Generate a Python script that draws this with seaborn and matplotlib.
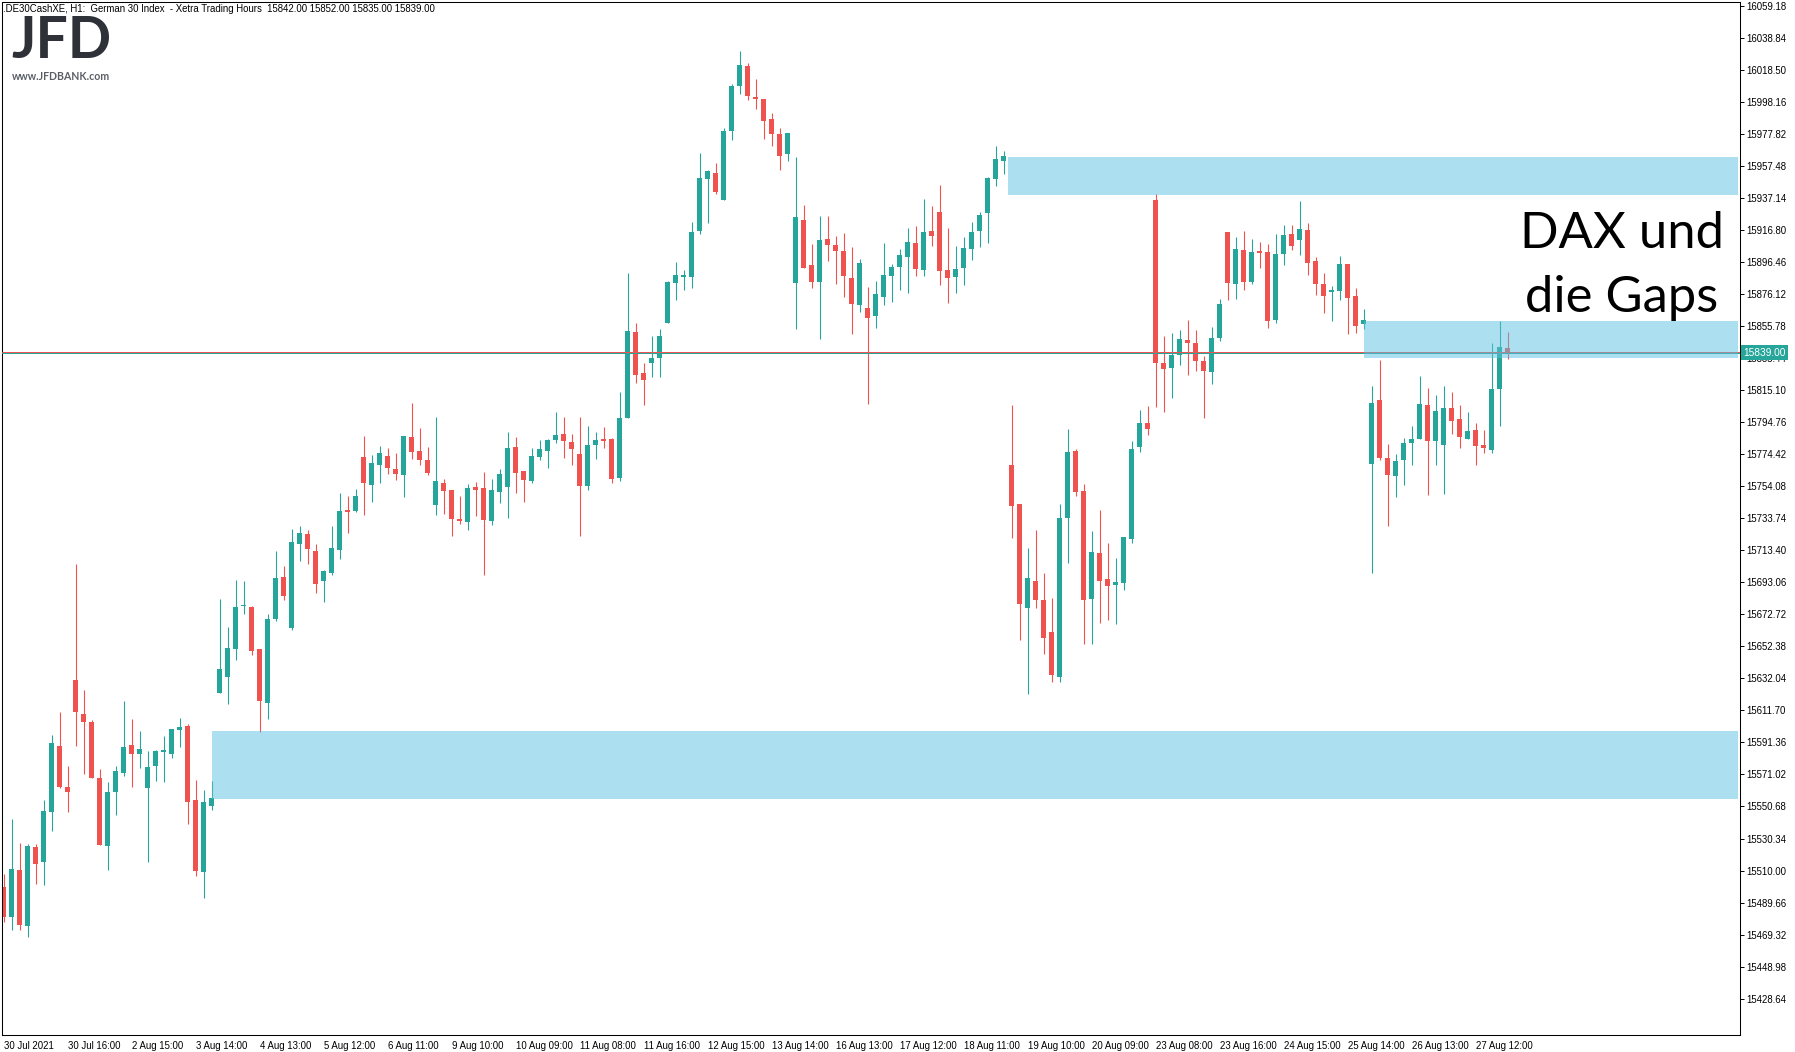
import numpy as np
import pandas as pd
import matplotlib
matplotlib.use("Agg")
import matplotlib.pyplot as plt
import matplotlib.transforms as mtransforms
from matplotlib.patches import Rectangle
import seaborn as sns

# DE30 hourly candles, 30 Jul - 27 Aug 2021
OPEN = [15499.7, 15480.7, 15510.5, 15474.5, 15525.1, 15515.1, 15546.9, 15589.2, 15563.2, 15631.1,
        15609.5, 15604.4, 15568.9, 15525.3, 15560.0, 15572.1, 15589.8, 15584.1, 15562.5, 15576.5,
        15585.4, 15584.1, 15599.4, 15601.9, 15554.9, 15509.2, 15551.1, 15622.8, 15633.0, 15650.8,
        15678.1, 15677.4, 15650.8, 15616.5, 15669.8, 15696.5, 15664.3, 15717.7, 15723.8, 15713.0,
        15694.2, 15699.3, 15713.9, 15739.0, 15738.4, 15772.7, 15755.1, 15767.8, 15773.3, 15765.1,
        15761.5, 15785.4, 15776.5, 15770.8, 15742.4, 15756.2, 15751.7, 15732.7, 15731.6, 15753.6,
        15753.0, 15732.3, 15750.7, 15753.9, 15779.0, 15763.8, 15757.7, 15772.9, 15776.7, 15783.7,
        15787.3, 15782.2, 15774.6, 15754.5, 15780.3, 15784.1, 15784.1, 15759.3, 15797.4, 15852.0,
        15826.0, 15832.3, 15835.5, 15857.7, 15883.1, 15886.9, 15886.9, 15916.1, 15949.1, 15952.9,
        15935.8, 15979.6, 16008.2, 16020.9, 16001.2, 15999.9, 15987.2, 15977.7, 15965.0, 15883.1,
        15923.1, 15894.5, 15883.7, 15911.0, 15907.2, 15903.4, 15886.3, 15869.1, 15867.2, 15862.2,
        15874.2, 15887.6, 15893.3, 15899.7, 15909.0, 15891.6, 15916.6, 15928.1, 15891.4, 15886.8,
        15892.8, 15904.8, 15916.3, 15927.6, 15949.3, 15960.7, 15767.5, 15742.8, 15677.0, 15693.8,
        15681.8, 15661.5, 15633.1, 15734.0, 15776.5, 15751.1, 15682.8, 15711.6, 15695.2, 15691.5,
        15692.5, 15720.9, 15779.2, 15794.2, 15935.7, 15832.3, 15829.3, 15837.6, 15846.9, 15845.0,
        15833.5, 15826.8, 15848.2, 15915.5, 15882.5, 15904.1, 15883.8, 15903.0, 15902.8, 15859.6,
        15901.5, 15914.2, 15910.4, 15916.8, 15897.1, 15882.5, 15877.6, 15878.1, 15895.2, 15874.9,
        15857.1, 15768.2, 15808.9, 15772.0, 15760.6, 15770.8, 15781.6, 15784.1, 15805.7, 15782.8,
        15780.3, 15803.8, 15796.8, 15784.1, 15789.8, 15780.3, 15777.1, 15815.8, 15842.0]
HIGH = [15507.9, 15542.9, 15527.6, 15526.6, 15527.0, 15554.9, 15596.2, 15610.8, 15576.5, 15704.7,
        15624.7, 15605.7, 15574.6, 15566.3, 15576.5, 15617.8, 15606.3, 15598.7, 15586.0, 15586.7,
        15595.5, 15600.0, 15607.0, 15603.2, 15567.6, 15561.3, 15567.0, 15682.5, 15664.7, 15694.6,
        15693.9, 15678.1, 15650.8, 15673.0, 15713.0, 15703.5, 15727.0, 15728.9, 15726.3, 15717.5,
        15701.0, 15728.9, 15749.8, 15747.9, 15752.4, 15786.0, 15774.0, 15779.7, 15778.4, 15775.2,
        15786.0, 15807.0, 15791.1, 15779.0, 15798.1, 15758.7, 15751.7, 15747.9, 15755.5, 15756.8,
        15763.2, 15758.7, 15765.1, 15788.6, 15785.4, 15763.8, 15778.4, 15783.5, 15784.1, 15801.3,
        15798.1, 15787.3, 15798.1, 15792.4, 15788.5, 15791.7, 15784.7, 15813.9, 15889.5, 15857.7,
        15832.3, 15849.5, 15853.9, 15884.4, 15896.4, 15891.4, 15921.8, 15965.6, 15954.8, 15959.3,
        15981.5, 16009.4, 16030.4, 16022.8, 16012.6, 15999.9, 15991.0, 15981.5, 15978.3, 15963.1,
        15932.6, 15907.9, 15925.6, 15925.6, 15912.9, 15914.8, 15906.0, 15898.3, 15880.6, 15884.4,
        15908.5, 15895.2, 15904.7, 15918.4, 15919.8, 15936.4, 15932.5, 15945.6, 15918.0, 15906.6,
        15912.2, 15921.9, 15928.3, 15950.5, 15970.1, 15966.9, 15805.6, 15742.8, 15714.8, 15726.2,
        15698.9, 15683.0, 15742.8, 15790.3, 15777.9, 15755.7, 15725.9, 15739.3, 15718.3, 15708.6,
        15721.8, 15782.9, 15802.8, 15805.1, 15939.9, 15849.4, 15851.3, 15853.3, 15859.6, 15853.3,
        15836.7, 15855.2, 15873.0, 15915.5, 15912.3, 15916.1, 15911.1, 15909.2, 15907.9, 15914.2,
        15919.9, 15919.9, 15935.2, 15921.2, 15899.6, 15889.5, 15881.2, 15900.3, 15895.2, 15880.0,
        15866.6, 15817.7, 15834.2, 15780.9, 15774.6, 15784.7, 15792.4, 15824.1, 15816.5, 15812.0,
        15817.7, 15813.9, 15805.7, 15801.2, 15794.3, 15789.8, 15845.0, 15859.0, 15852.0]
LOW = [15477.3, 15472.0, 15472.0, 15467.5, 15501.6, 15501.0, 15535.2, 15562.5, 15547.3, 15589.2,
       15571.4, 15568.5, 15525.9, 15510.5, 15545.4, 15570.2, 15563.2, 15575.2, 15515.6, 15567.0,
       15566.3, 15581.6, 15588.6, 15539.7, 15506.7, 15492.7, 15548.6, 15622.8, 15615.9, 15643.8,
       15673.0, 15647.0, 15598.1, 15606.3, 15668.5, 15681.9, 15663.1, 15706.7, 15704.8, 15686.6,
       15680.9, 15698.0, 15707.9, 15724.7, 15738.0, 15736.1, 15744.3, 15756.4, 15762.1, 15758.3,
       15747.5, 15771.6, 15767.8, 15761.5, 15736.1, 15736.7, 15722.7, 15730.4, 15726.6, 15735.4,
       15698.0, 15729.7, 15743.7, 15734.2, 15750.0, 15744.3, 15756.4, 15771.0, 15765.9, 15781.8,
       15772.3, 15767.8, 15722.7, 15751.9, 15771.4, 15778.4, 15756.1, 15757.4, 15797.4, 15819.6,
       15805.7, 15823.4, 15823.4, 15857.7, 15872.3, 15878.7, 15879.9, 15914.2, 15921.2, 15939.6,
       15935.8, 15973.9, 16003.1, 15999.3, 15993.6, 15974.5, 15970.1, 15954.8, 15960.6, 15853.9,
       15892.6, 15879.9, 15847.6, 15897.1, 15882.5, 15874.2, 15850.7, 15864.7, 15806.3, 15854.5,
       15869.1, 15871.0, 15878.7, 15876.9, 15887.5, 15887.5, 15906.9, 15881.7, 15870.6, 15876.9,
       15881.7, 15897.6, 15906.0, 15908.7, 15945.0, 15952.6, 15721.1, 15656.7, 15622.1, 15677.0,
       15647.7, 15629.7, 15629.7, 15705.2, 15748.1, 15653.9, 15653.9, 15667.5, 15669.4, 15666.8,
       15688.3, 15718.3, 15776.0, 15786.9, 15804.4, 15801.4, 15810.4, 15831.2, 15824.9, 15827.5,
       15797.7, 15819.2, 15846.5, 15872.3, 15873.0, 15878.7, 15882.5, 15892.7, 15854.6, 15857.7,
       15894.6, 15904.1, 15900.9, 15888.2, 15875.5, 15864.1, 15859.0, 15872.3, 15850.8, 15851.4,
       15853.9, 15699.0, 15770.8, 15728.9, 15747.3, 15754.9, 15767.6, 15784.1, 15748.6, 15767.6,
       15749.2, 15787.3, 15778.4, 15784.1, 15767.6, 15775.2, 15775.2, 15792.4, 15835.0]
CLOSE = [15480.2, 15511.1, 15475.1, 15525.7, 15514.3, 15547.9, 15591.1, 15563.0, 15560.2, 15610.4,
         15604.6, 15568.9, 15525.9, 15560.0, 15573.3, 15588.6, 15584.1, 15587.3, 15575.9, 15586.0,
         15585.4, 15600.0, 15601.3, 15553.6, 15509.8, 15553.6, 15556.2, 15638.1, 15651.4, 15677.4,
         15678.1, 15649.5, 15617.8, 15669.8, 15695.8, 15684.4, 15718.7, 15724.4, 15714.3, 15692.3,
         15700.3, 15714.9, 15738.4, 15738.0, 15747.9, 15756.4, 15768.9, 15775.2, 15765.9, 15762.1,
         15786.0, 15776.1, 15771.0, 15762.7, 15757.5, 15751.3, 15733.5, 15732.3, 15753.0, 15751.9,
         15732.9, 15751.7, 15761.9, 15778.4, 15762.7, 15758.3, 15773.3, 15777.8, 15783.5, 15786.7,
         15783.1, 15778.0, 15754.5, 15780.3, 15783.4, 15783.0, 15758.7, 15797.4, 15852.6, 15824.7,
         15821.5, 15835.5, 15849.5, 15883.7, 15888.2, 15888.2, 15915.5, 15949.8, 15954.2, 15940.9,
         15979.6, 16008.2, 16021.5, 16001.8, 15999.9, 15985.9, 15977.7, 15963.7, 15978.3, 15925.0,
         15892.6, 15883.7, 15910.4, 15907.2, 15903.4, 15887.6, 15869.8, 15895.8, 15860.9, 15876.1,
         15888.2, 15893.3, 15900.9, 15909.4, 15892.1, 15915.9, 15913.1, 15891.0, 15886.6, 15892.3,
         15905.3, 15915.9, 15926.3, 15949.8, 15961.8, 15963.7, 15741.4, 15679.5, 15695.7, 15682.1,
         15657.8, 15634.5, 15733.8, 15775.8, 15750.2, 15682.1, 15712.3, 15694.1, 15690.8, 15693.2,
         15721.8, 15777.6, 15794.2, 15790.6, 15832.6, 15828.6, 15837.4, 15847.6, 15845.3, 15833.7,
         15827.5, 15848.3, 15869.8, 15883.1, 15904.7, 15883.8, 15902.8, 15902.6, 15859.0, 15901.5,
         15913.6, 15906.6, 15917.4, 15895.8, 15882.5, 15874.9, 15878.7, 15895.2, 15873.6, 15855.8,
         15859.6, 15807.0, 15772.0, 15761.2, 15770.1, 15781.6, 15784.1, 15806.3, 15782.8, 15801.9,
         15803.8, 15795.5, 15785.4, 15789.2, 15779.7, 15778.4, 15815.8, 15842.5, 15839.0]

X_LABELS = ["30 Jul 2021", "30 Jul 16:00", "2 Aug 15:00", "3 Aug 14:00", "4 Aug 13:00",
            "5 Aug 12:00", "6 Aug 11:00", "9 Aug 10:00", "10 Aug 09:00", "11 Aug 08:00",
            "11 Aug 16:00", "12 Aug 15:00", "13 Aug 14:00", "16 Aug 13:00", "17 Aug 12:00",
            "18 Aug 11:00", "19 Aug 10:00", "20 Aug 09:00", "23 Aug 08:00", "23 Aug 16:00",
            "24 Aug 15:00", "25 Aug 14:00", "26 Aug 13:00", "27 Aug 12:00"]
BARS_PER_LABEL = 8

Y_TICKS = [16059.18, 16038.84, 16018.50, 15998.16, 15977.82, 15957.48, 15937.14, 15916.80,
           15896.46, 15876.12, 15855.78, 15835.44, 15815.10, 15794.76, 15774.42, 15754.08,
           15733.74, 15713.40, 15693.06, 15672.72, 15652.38, 15632.04, 15611.70, 15591.36,
           15571.02, 15550.68, 15530.34, 15510.00, 15489.66, 15469.32, 15448.98, 15428.64]

# gap zones: start bar, low, high
ZONE_START = [26.1, 125.6, 170.0]
ZONE_LOW = [15555.6, 15939.4, 15835.9]
ZONE_HIGH = [15598.9, 15963.4, 15859.2]

LAST_PRICE = 15839.0
HEADER = ".DE30CashXE, H1:  German 30 Index  - Xetra Trading Hours  15842.00 15852.00 15835.00 15839.00"

GREEN = "#26A69A"
RED = "#EF5350"
ZONE = (0.357, 0.757, 0.882, 0.5)
SMALL = 6.9

W_PX, H_PX = 1795, 1052

sns.set_style("white")
plt.rcParams['font.family'] = ['Liberation Sans', 'DejaVu Sans']

df = pd.DataFrame({"open": OPEN, "high": HIGH, "low": LOW, "close": CLOSE})
df["bar"] = np.arange(len(df))
df["up"] = df["close"] >= df["open"]
colors = np.where(df["up"], GREEN, RED)

fig = plt.figure(figsize=(W_PX / 100, H_PX / 100), dpi=100)
left, right, top, bottom = 2, 1740, 2, 1035
ax = fig.add_axes([left / W_PX, 1 - bottom / H_PX, (right - left) / W_PX, (bottom - top) / H_PX])

ax.vlines(df["bar"], df["low"], df["high"], color=colors, lw=0.8, zorder=2)
body_lo = np.minimum(df["open"], df["close"])
body_h = (df["close"] - df["open"]).abs().clip(lower=0.9)
ax.bar(df["bar"], body_h, bottom=body_lo, width=0.64, color=colors, lw=0, zorder=2)

# bid line: thin red over teal, reads as grey at full size
ax.axhline(LAST_PRICE + 0.64, color=RED, lw=0.72, zorder=3)
ax.axhline(LAST_PRICE - 0.3, color=GREEN, lw=0.72, zorder=3)

xmin, xmax = -0.21, 217.04
for x0, lo, hi in zip(ZONE_START, ZONE_LOW, ZONE_HIGH):
    ax.add_patch(Rectangle((x0, lo), xmax - x0 - 0.3, hi - lo, facecolor=ZONE, lw=0, zorder=4))

ax.set_xlim(xmin, xmax)
ax.set_ylim(15405.5, 16061.8)

ax.yaxis.tick_right()
ax.set_yticks(Y_TICKS)
ax.set_yticklabels([f"{v:.2f}" for v in Y_TICKS])
ax.set_xticks(range(0, BARS_PER_LABEL * len(X_LABELS), BARS_PER_LABEL))
ax.set_xticklabels(X_LABELS, ha="left")
ax.tick_params(axis="y", direction="out", length=3, width=0.7, pad=1.5, labelsize=SMALL, colors="black")
ax.tick_params(axis="x", direction="out", length=3, width=0.7, pad=1.5, labelsize=SMALL, colors="black")
for sp in ax.spines.values():
    sp.set_color("black")
    sp.set_linewidth(0.75)

trans = mtransforms.blended_transform_factory(ax.transAxes, ax.transData)
ax.text(1.0018, LAST_PRICE, f"{LAST_PRICE:.2f}", transform=trans, ha="left", va="center",
        fontsize=SMALL + 0.4, color="white", zorder=10, clip_on=False,
        bbox=dict(boxstyle="square,pad=0.22", facecolor=GREEN, edgecolor="none"))

fig.text(3 / W_PX, 1 - 8.5 / H_PX, HEADER, ha="left", va="center", fontsize=SMALL, color="black")
fig.text(11 / W_PX, 1 - 58 / H_PX, "JFD", ha="left", va="baseline", fontsize=41,
         fontweight="bold", family="Lato", color="#2E3238")
fig.text(12 / W_PX, 1 - 76 / H_PX, "www.JFDBANK.com", ha="left", va="center", fontsize=7.6,
         fontweight="bold", family="Lato", color="#5A5F66")

fig.text(1622 / W_PX, 1 - 248 / H_PX, "DAX und", ha="center", va="baseline", fontsize=36.5,
         family="Lato", color="black")
fig.text(1622 / W_PX, 1 - 312 / H_PX, "die Gaps", ha="center", va="baseline", fontsize=36.5,
         family="Lato", color="black")

fig.savefig("out.png", dpi=100)
